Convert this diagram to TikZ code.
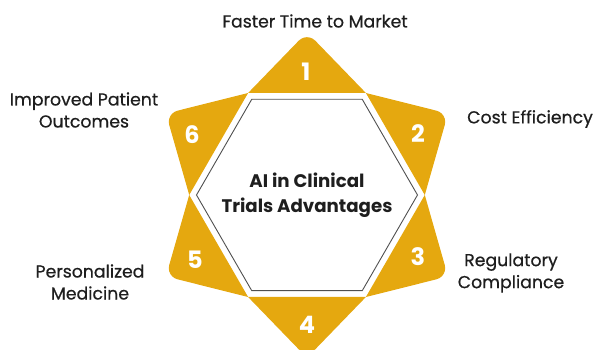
\documentclass[tikz,border=0pt]{standalone}
\usepackage{fontspec}
\setmainfont{Poppins}
\newfontfamily\labfont{Poppins}[FakeBold=0.6]
\definecolor{gold}{RGB}{229,168,15}
\definecolor{hexline}{RGB}{80,80,80}
\definecolor{txt}{RGB}{30,30,30}
\begin{document}
\begin{tikzpicture}[x=1pt,y=1pt,
  label/.style={text=txt,font=\labfont\fontsize{17.3}{22}\selectfont,align=center,inner sep=0pt},
  num/.style={text=white,font=\fontsize{24}{24}\selectfont\bfseries,inner sep=0pt},
  title/.style={text=txt,font=\fontsize{18.2}{25}\selectfont\bfseries,align=center,inner sep=0pt}]
\useasboundingbox (0,0) rectangle (595,350);
\clip (0,0) rectangle (595,350);
\coordinate (C) at (307,155);
\begin{scope}[shift={(C)}]
  \foreach \a in {90,30,-30,-90,-150,150}{
    \begin{scope}[rotate=\a-90]
      \fill[gold] (-58.9,102) -- ([shift={(0,146.3)}]135.8:11.5)
        arc[start angle=135.8,end angle=44.2,radius=11.5] -- (58.9,102) -- cycle;
    \end{scope}
  }
  \draw[hexline,line width=0.9pt] (0:110.5) -- (60:110.5) -- (120:110.5) -- (180:110.5)
    -- (240:110.5) -- (300:110.5) -- cycle;
\end{scope}
\node[num] (n1) at (306,278.5) {1};
\node[num] (n2) at (418,216.5) {2};
\node[num] (n3) at (418,93) {3};
\node[num] (n4) at (307,25) {4};
\node[num] (n5) at (195,90) {5};
\node[num] (n6) at (192,215) {6};
\node[title] (center) at (C) {AI in Clinical\\Trials Advantages};
\node[label] (l1) at (315,329) {Faster Time to Market};
\node[label,anchor=west] (l2) at (467,231) {Cost Efficiency};
\node[label] (l3) at (511,77) {Regulatory\\Compliance};
\node[label] (l5) at (90,68) {Personalized\\Medicine};
\node[label] (l6) at (84,240) {Improved Patient\\Outcomes};
\end{tikzpicture}
\end{document}
